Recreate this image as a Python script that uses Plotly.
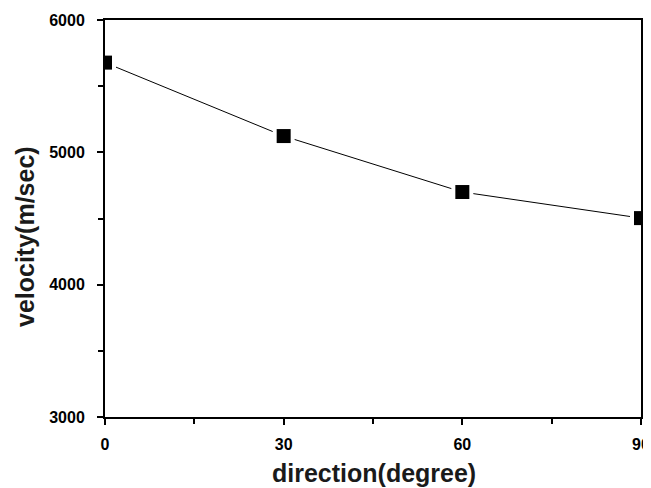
import plotly.graph_objects as go

direction = [0, 30, 60, 90]
velocity = [5678, 5123, 4700, 4503]
x_ticks = [0, 30, 60, 90]
y_ticks = [3000, 4000, 5000, 6000]
x_title = "direction(degree)"
y_title = "velocity(m/sec)"

fig = go.Figure()
fig.add_trace(go.Scatter(x=direction, y=velocity, mode="lines",
                         line=dict(color="black", width=1), showlegend=False))
# white halo beneath markers to create the line gap
fig.add_trace(go.Scatter(x=direction, y=velocity, mode="markers",
                         marker=dict(symbol="square", size=22, color="white"),
                         showlegend=False))
fig.add_trace(go.Scatter(x=direction, y=velocity, mode="markers",
                         marker=dict(symbol="square", size=14, color="black"),
                         showlegend=False))

axis_font = dict(family="Liberation Sans, Arial", size=16, color="black", weight="bold")
title_font = dict(family="Liberation Sans, Arial", size=25, color="#1a1a1a", weight="bold")

fig.update_xaxes(range=[0, 90], tickvals=x_ticks,
                 ticks="outside", ticklen=6, tickwidth=2, tickcolor="black",
                 minor=dict(tickvals=[15, 45, 75], ticks="outside", ticklen=5,
                            tickwidth=2, tickcolor="black"),
                 showline=True, linecolor="black", linewidth=2, mirror=True,
                 showgrid=False, zeroline=False, automargin=False,
                 tickfont=axis_font, ticklabelstandoff=6)
fig.update_yaxes(range=[3000, 6000], tickvals=y_ticks,
                 ticks="outside", ticklen=6, tickwidth=2, tickcolor="black",
                 minor=dict(tickvals=[3500, 4500, 5500], ticks="outside", ticklen=5,
                            tickwidth=2, tickcolor="black"),
                 showline=True, linecolor="black", linewidth=2, mirror=True,
                 showgrid=False, zeroline=False, automargin=False,
                 tickfont=axis_font, ticklabelstandoff=9)

# plot area in page pixels: x 105..641, y 20..417
fig.add_annotation(text=x_title, xref="paper", yref="paper",
                   x=(374 - 105) / 536, y=(417 - 473) / 397,
                   xanchor="center", yanchor="middle", showarrow=False,
                   font=title_font)
fig.add_annotation(text=y_title, xref="paper", yref="paper",
                   x=(25 - 105) / 536, y=(417 - 237) / 397, textangle=-90,
                   xanchor="center", yanchor="middle", showarrow=False,
                   font=title_font)

# the page body has an 8px default margin, so the figure is offset by 8px
fig.update_layout(width=643, height=480,
                  margin=dict(l=97, r=10, t=12, b=71),
                  plot_bgcolor="white", paper_bgcolor="white",
                  font=dict(family="Liberation Sans, Arial", color="black"))
fig.write_html("out.html")
